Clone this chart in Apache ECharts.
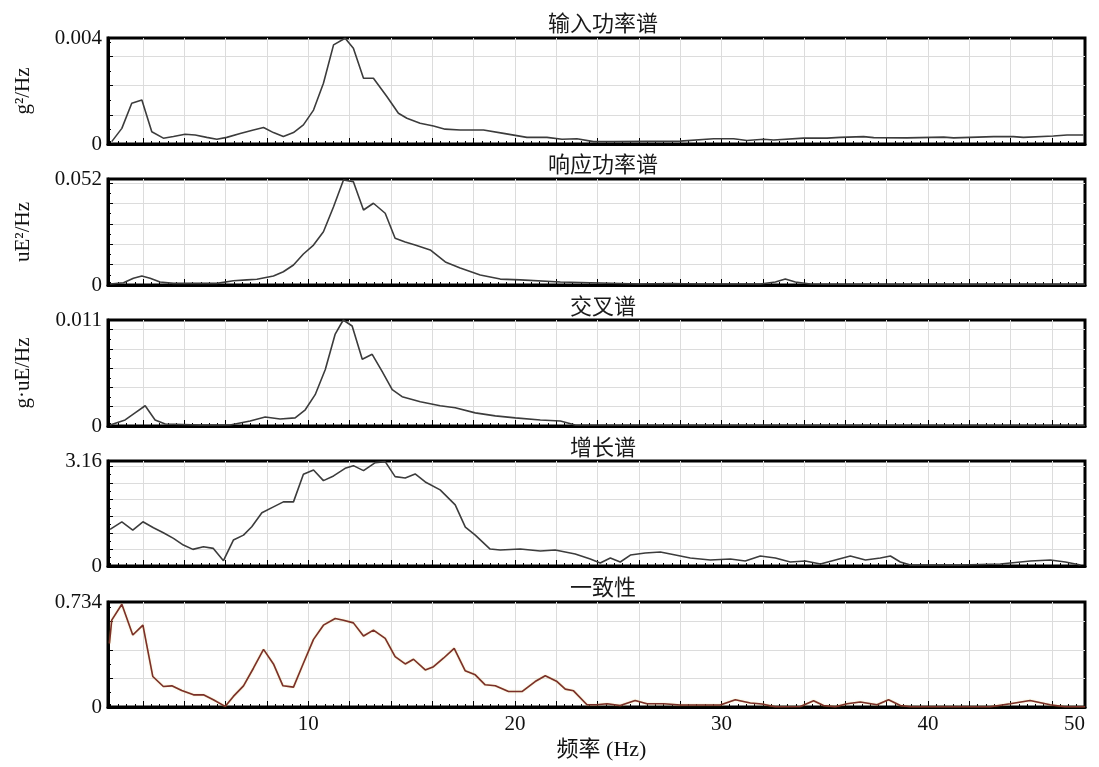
<!DOCTYPE html>
<html>
<head>
<meta charset="utf-8">
<script src="https://cdn.jsdelivr.net/npm/echarts@6/dist/echarts.min.js"></script>
<style>
  html, body { margin: 0; padding: 0; background: #fff; }
  #chart { width: 1099px; height: 767px; }
</style>
</head>
<body>
<div id="chart"></div>
<script>
// ---- frequency axis (Hz) ----
const FREQ_MIN = 0.3;
const FREQ_MAX = 47.6;
const freqTickLabels = ['10', '20', '30', '40', '50'];

// ---- panel titles, units and full-scale labels ----
const panelTitles = ['输入功率谱', '响应功率谱', '交叉谱', '增长谱', '一致性'];
const unitNames = ['g²/Hz', 'uE²/Hz', 'g·uE/Hz', '', ''];
const fullScale = [0.004, 0.052, 0.011, 3.16, 0.734];
const fullScaleLabels = ['0.004', '0.052', '0.011', '3.16', '0.734'];

// ---- input power spectrum (g²/Hz) ----
const inputFreq = [0.48, 0.97, 1.45, 1.94, 2.42, 2.98, 3.47, 4.03, 4.52, 5.08, 5.57, 6.05, 6.70, 7.34, 7.83, 8.31, 8.79, 9.28, 9.76, 10.25, 10.73, 11.22, 11.78, 12.18, 12.67, 13.15, 13.80, 14.36, 14.77, 15.41, 16.06, 16.62, 17.35, 18.48, 19.45, 20.58, 21.55, 22.28, 23.00, 23.81, 24.77, 28.00, 29.62, 30.59, 31.23, 32.04, 32.52, 33.98, 35.11, 35.75, 36.88, 37.37, 38.98, 40.76, 41.24, 43.18, 44.13, 44.62, 46.07, 46.73, 47.52];
const inputPsd = [0.00009, 0.00059, 0.00154, 0.00166, 0.00046, 0.00022, 0.00028, 0.00037, 0.00034, 0.00025, 0.00018, 0.00025, 0.00040, 0.00053, 0.00062, 0.00043, 0.00028, 0.00043, 0.00072, 0.00128, 0.00229, 0.00374, 0.00399, 0.00361, 0.00248, 0.00248, 0.00179, 0.00116, 0.00097, 0.00078, 0.00068, 0.00056, 0.00053, 0.00053, 0.00040, 0.00025, 0.00025, 0.00018, 0.00020, 0.00009, 0.00009, 0.00011, 0.00020, 0.00020, 0.00013, 0.00018, 0.00015, 0.00022, 0.00022, 0.00025, 0.00028, 0.00024, 0.00023, 0.00026, 0.00023, 0.00028, 0.00028, 0.00025, 0.00030, 0.00034, 0.00034];

// ---- response power spectrum (uE²/Hz) ----
const respFreq = [0.40, 1.05, 1.53, 1.94, 2.34, 2.82, 3.47, 4.76, 5.57, 6.37, 7.02, 7.51, 8.31, 8.79, 9.28, 9.76, 10.25, 10.73, 11.22, 11.70, 12.18, 12.67, 13.15, 13.72, 14.20, 14.69, 15.17, 15.90, 16.63, 17.35, 18.32, 19.29, 20.26, 22.20, 24.13, 26.07, 27.52, 28.92, 31.88, 32.61, 33.09, 33.58, 34.30, 38.66, 43.50, 47.60];
const respPsd = [0.0005, 0.0011, 0.0033, 0.0044, 0.0033, 0.0015, 0.0008, 0.0008, 0.0008, 0.0021, 0.0025, 0.0028, 0.0044, 0.0065, 0.0098, 0.0152, 0.0196, 0.0261, 0.0384, 0.0515, 0.0507, 0.0368, 0.0401, 0.0352, 0.0229, 0.0211, 0.0196, 0.0172, 0.0113, 0.0083, 0.0049, 0.0029, 0.0025, 0.0015, 0.0010, 0.0005, 0.0007, 0.0005, 0.0005, 0.0015, 0.0029, 0.0015, 0.0005, 0.0003, 0.0003, 0.0003];

// ---- cross spectrum (g·uE/Hz) ----
const crossFreq = [0.40, 1.13, 1.61, 2.10, 2.58, 3.07, 4.76, 6.21, 7.18, 7.91, 8.63, 9.36, 9.85, 10.33, 10.82, 11.30, 11.69, 12.12, 12.61, 13.09, 13.57, 14.06, 14.54, 15.42, 16.38, 17.11, 18.08, 19.05, 20.02, 21.23, 22.20, 22.92, 47.60];
const crossPsd = [0.0001, 0.00063, 0.00136, 0.0021, 0.00063, 0.0002, 0.0001, 0.0001, 0.00052, 0.00094, 0.00073, 0.00084, 0.00168, 0.00325, 0.00587, 0.00954, 0.0110, 0.01038, 0.00692, 0.00744, 0.00566, 0.00377, 0.00304, 0.00252, 0.0021, 0.00189, 0.00136, 0.00105, 0.00084, 0.00063, 0.00052, 0.0001, 0.00005];

// ---- gain spectrum ----
const gainFreq = [0.40, 0.97, 1.50, 1.99, 2.50, 2.98, 3.47, 3.95, 4.41, 4.92, 5.40, 5.89, 6.37, 6.86, 7.26, 7.75, 8.31, 8.79, 9.28, 9.76, 10.25, 10.73, 11.22, 11.78, 12.18, 12.67, 13.24, 13.72, 14.20, 14.69, 15.17, 15.66, 16.38, 17.11, 17.60, 18.08, 18.80, 19.29, 20.26, 21.23, 21.95, 22.92, 23.65, 24.13, 24.62, 25.10, 25.59, 26.31, 27.04, 27.77, 28.49, 29.46, 30.43, 31.15, 31.88, 32.61, 33.33, 34.06, 34.79, 35.51, 36.24, 36.97, 37.69, 38.18, 38.66, 39.15, 41.57, 43.50, 44.96, 45.92, 46.65, 47.38];
const gainVal = [1.10, 1.33, 1.08, 1.33, 1.15, 1.00, 0.83, 0.63, 0.50, 0.58, 0.53, 0.16, 0.78, 0.93, 1.18, 1.60, 1.78, 1.93, 1.93, 2.76, 2.89, 2.57, 2.71, 2.94, 3.02, 2.87, 3.11, 3.14, 2.69, 2.65, 2.77, 2.53, 2.29, 1.84, 1.17, 0.93, 0.51, 0.48, 0.51, 0.45, 0.48, 0.36, 0.21, 0.09, 0.24, 0.12, 0.33, 0.39, 0.42, 0.33, 0.24, 0.18, 0.21, 0.15, 0.30, 0.24, 0.12, 0.15, 0.06, 0.18, 0.30, 0.18, 0.24, 0.30, 0.12, 0.03, 0.03, 0.06, 0.15, 0.18, 0.12, 0.03];

// ---- coherence ----
const cohFreq = [0.37, 0.48, 0.97, 1.50, 1.99, 2.47, 2.98, 3.39, 3.87, 4.44, 4.92, 5.40, 5.97, 6.37, 6.86, 7.34, 7.83, 8.31, 8.77, 9.28, 9.76, 10.25, 10.73, 11.30, 11.70, 12.18, 12.67, 13.15, 13.72, 14.20, 14.69, 15.09, 15.66, 16.06, 16.54, 17.06, 17.59, 18.08, 18.56, 19.05, 19.69, 20.34, 20.98, 21.47, 22.04, 22.44, 22.84, 23.49, 23.97, 24.46, 25.10, 25.82, 26.39, 27.20, 28.01, 29.94, 30.67, 31.40, 31.96, 32.61, 33.82, 34.46, 34.94, 35.51, 36.08, 36.72, 37.53, 38.09, 38.66, 39.15, 43.02, 43.98, 44.94, 45.91, 46.63, 47.60];
const cohVal = [0.445, 0.607, 0.718, 0.503, 0.572, 0.213, 0.143, 0.148, 0.115, 0.085, 0.085, 0.051, 0.004, 0.074, 0.148, 0.271, 0.403, 0.301, 0.148, 0.139, 0.306, 0.473, 0.572, 0.619, 0.607, 0.588, 0.496, 0.537, 0.480, 0.352, 0.301, 0.334, 0.259, 0.282, 0.341, 0.410, 0.254, 0.225, 0.155, 0.148, 0.108, 0.108, 0.178, 0.218, 0.178, 0.125, 0.113, 0.016, 0.016, 0.023, 0.011, 0.046, 0.023, 0.023, 0.014, 0.014, 0.051, 0.028, 0.021, 0.002, 0.004, 0.044, 0.011, 0.002, 0.023, 0.035, 0.016, 0.051, 0.011, 0.002, 0.002, 0.023, 0.046, 0.016, 0.002, 0.002];

const seriesFreq = [inputFreq, respFreq, crossFreq, gainFreq, cohFreq];
const seriesVals = [inputPsd, respPsd, crossPsd, gainVal, cohVal];

// ---- layout & styling ----
const PLOT_LEFT = 108;
const PLOT_WIDTH = 977;
const panelTop = [38, 179, 320, 461, 602];
const panelHeight = [106, 106, 106, 105, 105];
const titleTop = [11, 152, 294, 435, 575];
const gridStep = [0.0011, 0.01, 0.002, 0.5, 0.2];   // horizontal grid spacing per panel
const lineColor = ['#3c3c3c', '#3c3c3c', '#3c3c3c', '#3c3c3c', '#7a2f2a'];
const SERIF = '"Liberation Serif", "Times New Roman", serif';
const CJK = '"Noto Sans CJK SC", sans-serif';
const LAST = panelTitles.length - 1;

const chart = echarts.init(document.getElementById('chart'), null, { renderer: 'canvas' });

const option = {
  animation: false,
  backgroundColor: '#ffffff',
  title: panelTitles.map((t, i) => ({
    text: t,
    left: 603,
    top: titleTop[i],
    textAlign: 'center',
    padding: 0,
    textStyle: { fontFamily: CJK, fontSize: 22, fontWeight: 'normal', color: '#1a1a1a', lineHeight: 24 }
  })),
  grid: panelTitles.map((t, i) => ({
    left: PLOT_LEFT,
    top: panelTop[i],
    width: PLOT_WIDTH,
    height: panelHeight[i],
    show: true,
    borderColor: '#000',
    borderWidth: 3,
    backgroundColor: 'rgba(0,0,0,0)',
    containLabel: false,
    outerBoundsMode: 'none'
  })),
  xAxis: panelTitles.map((t, i) => ({
    type: 'value',
    gridIndex: i,
    min: FREQ_MIN,
    max: FREQ_MAX,
    splitNumber: 24,
    minInterval: 2,
    maxInterval: 2,
    axisLine: { show: true, onZero: false, lineStyle: { color: '#000', width: 3 } },
    axisTick: { show: true, inside: true, length: 6, lineStyle: { color: '#000', width: 1 } },
    minorTick: { show: true, splitNumber: 5, length: 3, lineStyle: { color: '#000', width: 1 } },
    splitLine: { show: true, showMinLine: false, showMaxLine: false, lineStyle: { color: '#dcdcdc', width: 1 } },
    axisLabel: {
      show: i === LAST,
      margin: 7,
      fontFamily: SERIF,
      fontSize: 21,
      color: '#111',
      alignMaxLabel: 'right',
      formatter: v => {
        if (Math.abs(v - FREQ_MAX) < 1e-9) return freqTickLabels[freqTickLabels.length - 1];
        const r = Math.round(v);
        if (Math.abs(v - r) > 1e-9 || r % 10 !== 0) return '';
        const k = freqTickLabels.indexOf(String(r));
        return k >= 0 ? freqTickLabels[k] : '';
      }
    },
    name: i === LAST ? '频率 (Hz)' : '',
    nameLocation: 'middle',
    nameGap: 32,
    nameTextStyle: { fontFamily: SERIF + ', ' + CJK, fontSize: 22, color: '#111', padding: [0, 0, 0, 10] }
  })),
  yAxis: panelTitles.map((t, i) => ({
    type: 'value',
    gridIndex: i,
    min: 0,
    max: fullScale[i],
    interval: gridStep[i],
    axisLine: { show: true, onZero: false, lineStyle: { color: '#000', width: 3 } },
    axisTick: { show: true, inside: true, length: 5, lineStyle: { color: '#000', width: 1 } },
    minorTick: { show: true, splitNumber: 2, length: 3, lineStyle: { color: '#000', width: 1 } },
    splitLine: { show: true, showMinLine: false, showMaxLine: false, lineStyle: { color: '#dcdcdc', width: 1 } },
    axisLabel: {
      margin: 6,
      fontFamily: SERIF,
      fontSize: 21,
      color: '#111',
      formatter: v => {
        if (v === 0) return '0';
        if (Math.abs(v - fullScale[i]) < fullScale[i] * 1e-6) return fullScaleLabels[i];
        return '';
      }
    },
    name: unitNames[i],
    nameLocation: 'middle',
    nameGap: 74,
    nameTextStyle: { fontFamily: SERIF, fontSize: 21, color: '#111' }
  })),
  series: panelTitles.map((t, i) => ({
    name: t,
    type: 'line',
    xAxisIndex: i,
    yAxisIndex: i,
    showSymbol: false,
    symbol: 'none',
    silent: true,
    clip: true,
    lineStyle: i === LAST
      ? { color: lineColor[i], width: 1.6, shadowColor: 'rgba(220, 190, 60, 0.5)', shadowBlur: 1.5 }
      : { color: lineColor[i], width: 1.6 },
    data: seriesFreq[i].map((f, k) => [f, seriesVals[i][k]])
  }))
};

chart.setOption(option);
</script>
</body>
</html>
